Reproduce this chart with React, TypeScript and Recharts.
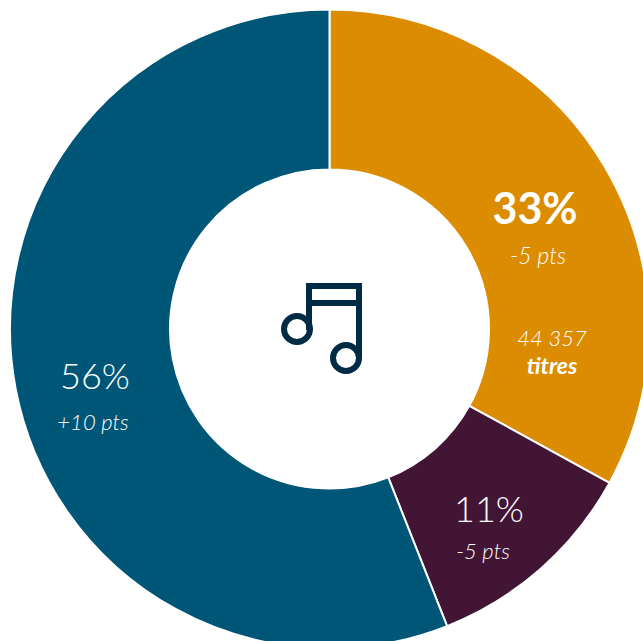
import React from 'react';
import { PieChart, Pie, Cell } from 'recharts';

const categories = ['Segment A', 'Segment B', 'Segment C'];
const shares = [33, 11, 56];
const colors = ['#DC8C00', '#431535', '#005677'];

const shareLabels = ['33%', '11%', '56%'];
const deltaLabels = ['-5 pts', '-5 pts', '+10 pts'];
const countLabel = '44 357';
const unitLabel = 'titres';

const pieData = categories.map((name, i) => ({ name, value: shares[i] }));

const FONT = 'Lato, "Open Sans", sans-serif';

// the pie sits on its own layer, so the texts go in an svg laid over the chart
function Overlay() {
  return (
    <svg width={643} height={641} style={{ position: 'absolute', left: 0, top: 0 }}>
      <g fill="none" stroke="#002B45" strokeWidth={6}>
        <path d="M309 330V286H359V358" />
        <path d="M309 303H359" />
        <circle cx={297} cy={329} r={13} />
        <circle cx={346} cy={358} r={13} />
      </g>
      <g fontFamily={FONT} fill="#fff" textAnchor="middle">
        <text x={535} y={224} fontSize={43} fontWeight={700}>{shareLabels[0]}</text>
        <text x={538} y={264} fontSize={23} fontWeight={300} fontStyle="italic">{deltaLabels[0]}</text>
        <text x={552} y={346} fontSize={22} fontWeight={300} fontStyle="italic">{countLabel}</text>
        <text x={552} y={374} fontSize={23} fontWeight={700} fontStyle="italic">{unitLabel}</text>
        <text x={489} y={522} fontSize={36} fontWeight={300}>{shareLabels[1]}</text>
        <text x={483} y={559} fontSize={22} fontWeight={300} fontStyle="italic">{deltaLabels[1]}</text>
        <text x={95} y={389} fontSize={36} fontWeight={300}>{shareLabels[2]}</text>
        <text x={93} y={430} fontSize={22} fontWeight={300} fontStyle="italic">{deltaLabels[2]}</text>
      </g>
    </svg>
  );
}

export default function App() {
  return (
    <div style={{ position: 'absolute', left: 0, top: 0, width: 643, height: 641, overflow: 'hidden', background: '#fff' }}>
      <PieChart width={643} height={641} margin={{ top: 0, right: 0, bottom: 0, left: 0 }}>
        <Pie
          data={pieData}
          dataKey="value"
          cx={329.5}
          cy={329}
          innerRadius={159.5}
          outerRadius={319.5}
          startAngle={90}
          endAngle={-270}
          stroke="#fff"
          strokeWidth={2}
          isAnimationActive={false}
        >
          {pieData.map((entry, i) => (
            <Cell key={entry.name} fill={colors[i]} />
          ))}
        </Pie>
      </PieChart>
      <Overlay />
    </div>
  );
}
